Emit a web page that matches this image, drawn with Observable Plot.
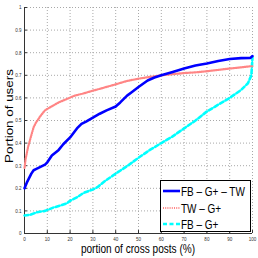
<!DOCTYPE html>
<html><head><meta charset="utf-8">
<script src="https://cdn.jsdelivr.net/npm/d3@7"></script>
<script src="https://cdn.jsdelivr.net/npm/@observablehq/plot@0.6"></script>
<style>html,body{margin:0;padding:0;background:#fff;}svg{display:block;}</style>
</head><body><div id="chart"></div>
<script>
const xTicks = [0,10,20,30,40,50,60,70,80,90,100];
const yTicks = [0,0.1,0.2,0.3,0.4,0.5,0.6,0.7,0.8,0.9,1];
const yTickLabels = ["0","0.1","0.2","0.3","0.4","0.5","0.6","0.7","0.8","0.9","1"];
const seriesNames = ["FB – G+ – TW","TW – G+","FB – G+"];

const fbgtX = [0,1,2,3,4,5,7,9,10,12,15,17,20,23,25,27,30,33,36,40,42,45,47,50,54,57,60,65,70,75,80,85,90,95,99,100];
const fbgtY = [0.20,0.225,0.245,0.265,0.28,0.285,0.295,0.305,0.315,0.345,0.37,0.395,0.425,0.465,0.485,0.495,0.513,0.53,0.545,0.562,0.58,0.61,0.625,0.648,0.677,0.69,0.70,0.715,0.73,0.743,0.752,0.763,0.772,0.776,0.777,0.785];

const twgX = [0,0.5,1.5,3,4,5,7,9,11,15,19,22,26,30,33,40,45,50,55,60,65,70,75,80,85,90,95,99,100];
const twgY = [0.29,0.33,0.38,0.435,0.47,0.49,0.52,0.545,0.557,0.58,0.597,0.61,0.62,0.632,0.64,0.66,0.675,0.685,0.693,0.70,0.705,0.71,0.713,0.718,0.724,0.73,0.735,0.74,0.74];

const fbgX = [0,2.6,5.5,9,12.7,15.8,18.7,20,23,26,30,32,35,40,45,50,55,60,65,70,75,80,85,90,95,98,99.5,100];
const fbgY = [0.08,0.083,0.094,0.10,0.115,0.124,0.134,0.145,0.16,0.18,0.195,0.205,0.23,0.265,0.298,0.335,0.37,0.40,0.43,0.465,0.50,0.54,0.57,0.60,0.635,0.665,0.70,0.78];

const zip = (xs, ys) => xs.map((x, i) => ({x, y: ys[i]}));
const s1 = zip(fbgtX, fbgtY), s2 = zip(twgX, twgY), s3 = zip(fbgX, fbgY);

const colors = ["#0000ff", "#ff8585", "#00ffff"];
const dashes = [null, "1,1.2", "4,2.5"];
const widths = [2.6, 2.2, 2.6];

const chart = Plot.plot({
  width: 258, height: 258,
  marginLeft: 24, marginRight: 6, marginTop: 7, marginBottom: 25,
  x: {domain: [0, 100]},
  y: {domain: [0, 1]},
  style: {fontFamily: "Liberation Sans, Arial, sans-serif", color: "#333", background: "#fff"},
  marks: [
    Plot.gridX(xTicks.slice(1), {stroke: "#a8a8a8", strokeOpacity: 1, strokeDasharray: "1,2"}),
    Plot.gridY(yTicks.slice(1), {stroke: "#a8a8a8", strokeOpacity: 1, strokeDasharray: "1,2"}),
    Plot.axisX({ticks: xTicks, tickSize: 0, tickPadding: 3, fontSize: 6, label: null, tickFormat: d => String(d)}),
    Plot.axisY({ticks: yTicks, tickSize: 0, tickPadding: 3, fontSize: 6, label: null, tickFormat: (d, i) => yTickLabels[i]}),
    Plot.ruleY(yTicks, {x1: 0, x2: 1.3, stroke: "#333"}),
    Plot.ruleX(xTicks, {y1: 0, y2: 0.013, stroke: "#333"}),
    Plot.ruleX([0], {stroke: "#333"}),
    Plot.ruleY([0], {stroke: "#333"}),
    Plot.line(s3, {x: "x", y: "y", stroke: colors[2], strokeWidth: widths[2], strokeDasharray: dashes[2]}),
    Plot.line(s2, {x: "x", y: "y", stroke: colors[1], strokeWidth: widths[1], strokeDasharray: dashes[1]}),
    Plot.line(s1, {x: "x", y: "y", stroke: colors[0], strokeWidth: widths[0]})
  ]
});
document.getElementById("chart").appendChild(chart);

const svg = d3.select(chart);
const squeeze = 0.76;
svg.selectAll("text").each(function() {
  const len = this.getComputedTextLength();
  if (len > 0) { this.setAttribute("textLength", len * squeeze); this.setAttribute("lengthAdjust", "spacingAndGlyphs"); }
});

const font = "Liberation Sans, Arial, sans-serif";
svg.append("text").attr("transform", "translate(138,253) scale(0.84,1)").attr("text-anchor", "middle")
  .attr("font-family", font).attr("font-size", 12).attr("fill", "#000").text("portion of cross posts (%)");
svg.append("text").attr("transform", "translate(13,116) scale(" + squeeze + ",1) rotate(-90)")
  .attr("text-anchor", "middle").attr("font-family", font).attr("font-size", 13.4).attr("fill", "#000").text("Portion of users");

const lg = svg.append("g");
lg.append("rect").attr("x", 160.5).attr("y", 180.5).attr("width", 90).attr("height", 51)
  .attr("fill", "#fff").attr("stroke", "#000").attr("stroke-width", 1);
const rowY = [191, 208, 224];
seriesNames.forEach((name, i) => {
  lg.append("line").attr("x1", 163).attr("x2", 180).attr("y1", rowY[i]).attr("y2", rowY[i])
    .attr("stroke", colors[i]).attr("stroke-width", widths[i]).attr("stroke-dasharray", dashes[i]);
  lg.append("text").attr("transform", "translate(181," + (rowY[i] + 5) + ") scale(0.74,1)").attr("text-anchor", "start")
    .attr("font-family", font).attr("font-size", 13.5).attr("fill", "#000").text(name);
});
</script></body></html>
